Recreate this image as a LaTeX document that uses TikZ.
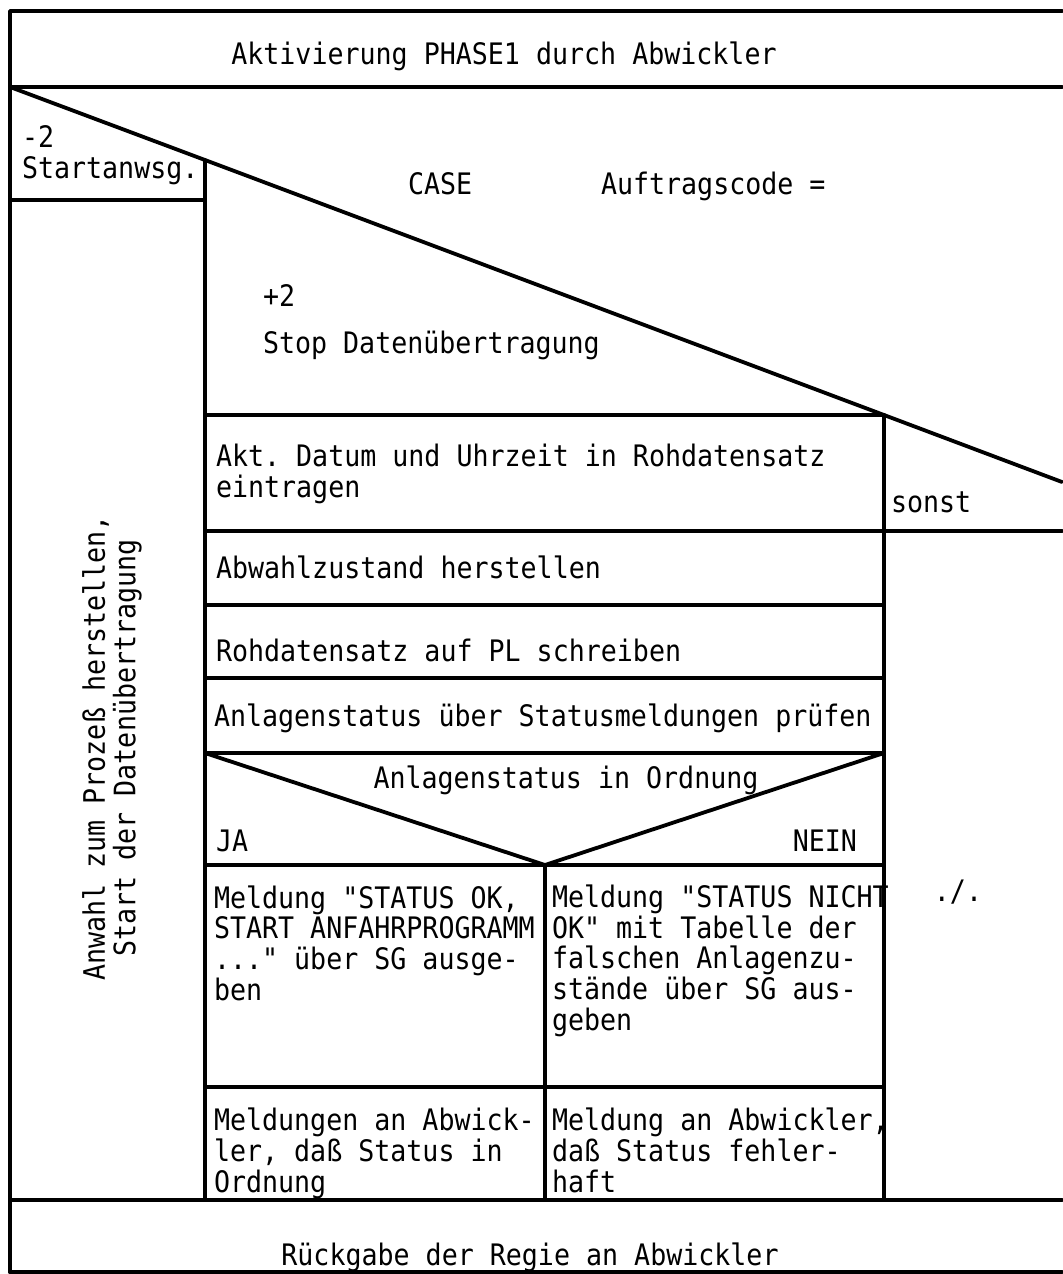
\documentclass[tikz,border=0pt]{standalone}
\usepackage{fontspec}
\setmonofont[FakeStretch=0.9]{DejaVu Sans Mono}
\begin{document}
\begin{tikzpicture}[x=0.5pt,y=-0.5pt,
  rule/.style={line width=1.9pt,line cap=round,line join=round},
  txt/.style={font=\ttfamily\fontsize{14.8}{15.3}\selectfont,inner sep=0pt,outer sep=0pt},
  lt/.style={txt,anchor=base west,align=left},
  ct/.style={txt,anchor=base,align=center}]
\useasboundingbox (0,0) rectangle (1062,1274);

% frame
\draw[rule] (10,1272) -- (10,11) -- (1062,11);
\draw[rule] (10,1272) -- (1062,1272);
\draw[rule] (10,87) -- (1062,87);

% CASE head: diagonal and case columns
\coordinate (d0) at (10,87);
\coordinate (d1) at (1062,482);
\coordinate (ca) at (205,160);
\coordinate (cb) at (884,415);
\draw[rule] (d0) -- (ca) -- (cb) -- (d1);
\draw[rule] (10,200) -- (205,200);
\draw[rule] (ca) -- (205,1200);
\draw[rule] (cb) -- (884,1200);
\draw[rule] (205,415) -- (cb);
\draw[rule] (205,531) -- (1062,531);
\draw[rule] (205,605) -- (884,605);
\draw[rule] (205,678) -- (884,678);
\draw[rule] (205,753) -- (884,753);

% decision
\coordinate (dl) at (205,753);
\coordinate (dm) at (545,865);
\coordinate (dr) at (884,753);
\draw[rule] (dl) -- (dm) -- (dr);
\draw[rule] (205,865) -- (884,865);
\draw[rule] (dm) -- (545,1200);
\draw[rule] (205,1087) -- (884,1087);
\draw[rule] (10,1200) -- (1062,1200);

% texts (multi-line nodes are placed by the baseline of their last line)
\node[ct] (title) at (504,64) {Aktivierung PHASE1 durch Abwickler};
\node[lt] (m2) at (22,178) {-2\\Startanwsg.};
\node[lt] (case) at (408,194) {CASE};
\node[lt] (code) at (601,194) {Auftragscode =};
\node[lt] (p2) at (263,306) {+2};
\node[lt] (stop) at (263,353) {Stop Datenübertragung};
\node[txt,rotate=90,align=center] (anw) at (112,748)
  {Anwahl zum Prozeß herstellen,\\Start der Datenübertragung};
\node[lt] (akt) at (216,497) {Akt. Datum und Uhrzeit in Rohdatensatz\\eintragen};
\node[lt] (sonst) at (891,512) {sonst};
\node[lt] (abw) at (216,578) {Abwahlzustand herstellen};
\node[lt] (roh) at (216,661) {Rohdatensatz auf PL schreiben};
\node[lt] (anl) at (214,726) {Anlagenstatus über Statusmeldungen prüfen};
\node[ct] (frage) at (566,788) {Anlagenstatus in Ordnung};
\node[lt] (ja) at (216,851) {JA};
\node[txt,anchor=base east] (nein) at (857,851) {NEIN};
\node[lt] (okm) at (214,1000) {Meldung "STATUS OK,\\START ANFAHRPROGRAMM\\..." über SG ausge-\\ben};
\node[lt] (nokm) at (552,1030) {Meldung "STATUS NICHT\\OK" mit Tabelle der\\falschen Anlagenzu-\\stände über SG aus-\\geben};
\node[lt] (okr) at (214,1192) {Meldungen an Abwick-\\ler, daß Status in\\Ordnung};
\node[lt] (nokr) at (552,1192) {Meldung an Abwickler,\\daß Status fehler-\\haft};
\node[ct] (leer) at (958,901) {./.};
\node[ct] (rueck) at (530,1265) {Rückgabe der Regie an Abwickler};
\end{tikzpicture}
\end{document}
